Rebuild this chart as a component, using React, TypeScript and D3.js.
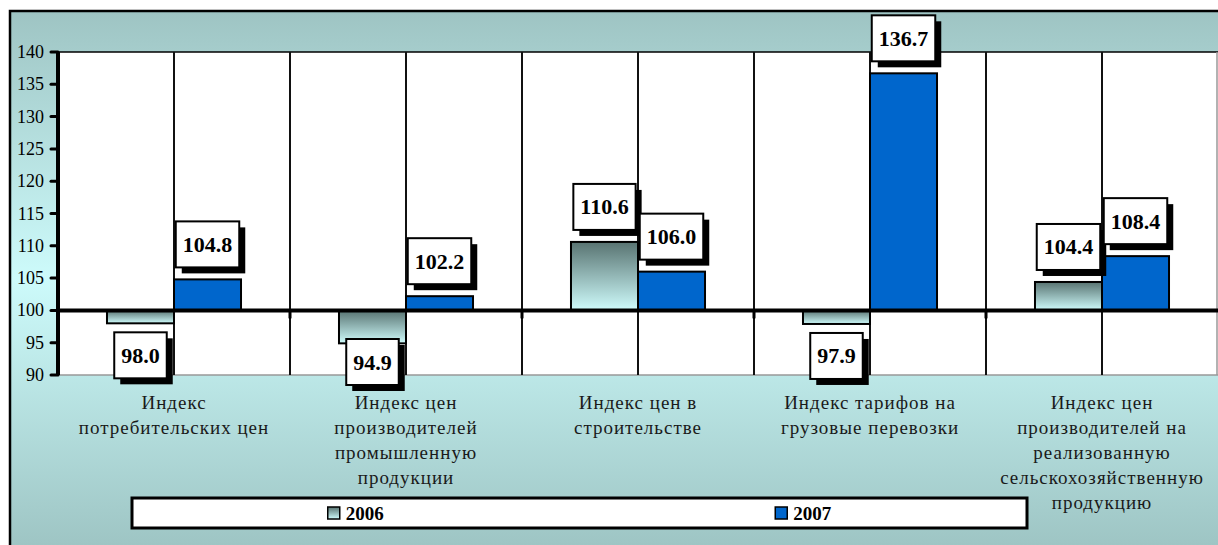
import React from "react";
import * as d3 from "d3";

const categories: string[][] = [
  ["Индекс", "потребительских цен"],
  ["Индекс цен", "производителей", "промышленную", "продукции"],
  ["Индекс цен в", "строительстве"],
  ["Индекс тарифов на", "грузовые перевозки"],
  ["Индекс цен", "производителей на", "реализованную", "сельскохозяйственную", "продукцию"],
];
const seriesNames = ["2006", "2007"];
const values2006 = [98.0, 94.9, 110.6, 97.9, 104.4];
const values2007 = [104.8, 102.2, 106.0, 136.7, 108.4];
const yTicks = [90, 95, 100, 105, 110, 115, 120, 125, 130, 135, 140];

const W = 1218;
const H = 545;
const plotL = 58;
const plotR = 1218;
const plotT = 52;
const plotB = 375;
const BASE = 100;

const valueFont = "bold 22px 'Liberation Serif'";

function measure(text: string, font: string): number {
  try {
    const c = document.createElement("canvas");
    const ctx = c.getContext("2d");
    if (ctx) {
      ctx.font = font;
      return ctx.measureText(text).width;
    }
  } catch (e) {}
  return text.length * 10;
}

export default function App() {
  const catIdx = categories.map((_, i) => String(i));
  const x = d3.scaleBand<string>().domain(catIdx).range([plotL, plotR]).paddingInner(0).paddingOuter(0);
  const xs = d3.scaleBand<string>().domain(seriesNames).range([0, x.bandwidth()]).paddingInner(0).paddingOuter(0.731);
  const y = d3.scaleLinear().domain([90, 140]).range([plotB, plotT]);

  const series = [
    { name: "2006", values: values2006, fill: "url(#g06)" },
    { name: "2007", values: values2007, fill: "#0066CC" },
  ];

  const bars: any[] = [];
  const labels: any[] = [];
  series.forEach((s) => {
    s.values.forEach((v, i) => {
      const bx = (x(String(i)) as number) + (xs(s.name) as number);
      const bw = xs.bandwidth();
      const y0 = y(BASE);
      const y1 = y(v);
      const top = Math.min(y0, y1);
      const h = Math.abs(y1 - y0);
      bars.push(
        <rect key={`b${s.name}${i}`} x={bx} y={top} width={bw} height={h} fill={s.fill} stroke="#000" strokeWidth={2} />
      );
      const txt = v.toFixed(1);
      const tw = measure(txt, valueFont);
      const boxW = tw + 14;
      const boxH = 46;
      const cx = bx + bw / 2;
      let by: number;
      if (v >= BASE) {
        by = y1 - 12 - boxH;
      } else {
        by = Math.min(y1 + 9, y(90) - 36);
      }
      labels.push(
        <g key={`l${s.name}${i}`}>
          <rect x={cx - boxW / 2 + 6} y={by + 6} width={boxW} height={boxH} fill="#000" />
          <rect x={cx - boxW / 2} y={by} width={boxW} height={boxH} fill="#fff" stroke="#000" strokeWidth={2} />
          <text
            x={cx}
            y={by + boxH / 2 + 7.5}
            textAnchor="middle"
            fontFamily="'Liberation Serif', serif"
            fontWeight="bold"
            fontSize={22}
            fill="#000"
          >
            {txt}
          </text>
        </g>
      );
    });
  });

  const gridXs: number[] = [];
  catIdx.forEach((c) => {
    const s = x(c) as number;
    if (s > plotL) gridXs.push(s);
    gridXs.push(s + x.bandwidth() / 2);
  });

  const boundaryXs = catIdx.slice(1).map((c) => x(c) as number);

  const legendX0 = 132;
  const legendX1 = 1027;
  const legendY0 = 498;
  const legendY1 = 528;
  const half = (legendX1 - legendX0) / 2;
  const legendFont = "bold 19px 'Liberation Serif'";

  return (
    <svg
      width={W}
      height={H}
      style={{ position: "absolute", left: 0, top: 0, display: "block" }}
      xmlns="http://www.w3.org/2000/svg"
    >
      <defs>
        <linearGradient id="bg" x1="0" y1="11" x2="0" y2="545" gradientUnits="userSpaceOnUse">
          <stop offset="0" stopColor="#9ec4c3" />
          <stop offset="0.5" stopColor="#cdfbfb" />
          <stop offset="1" stopColor="#9ec5c4" />
        </linearGradient>
        <linearGradient id="g06" x1="0" y1="0" x2="0" y2="1">
          <stop offset="0" stopColor="#587371" />
          <stop offset="1" stopColor="#cffcfc" />
        </linearGradient>
      </defs>
      <rect x={0} y={0} width={W} height={H} fill="#fff" />
      <rect x={10} y={11} width={W + 10} height={H + 10} fill="url(#bg)" stroke="#000" strokeWidth={2.5} />

      {/* plot area */}
      <rect x={plotL} y={plotT} width={plotR - plotL} height={plotB - plotT} fill="#fff" />
      <line x1={plotL} x2={plotR} y1={plotT} y2={plotT} stroke="#000" strokeWidth={1.5} />
      <line x1={plotL} x2={plotR} y1={plotB} y2={plotB} stroke="#999" strokeWidth={1.5} />
      <line x1={plotR - 1} x2={plotR - 1} y1={plotT} y2={plotB} stroke="#999" strokeWidth={1.5} />

      {gridXs.map((gx, i) => (
        <line key={`g${i}`} x1={gx} x2={gx} y1={plotT} y2={plotB} stroke="#111" strokeWidth={2} />
      ))}

      {bars}

      {/* baseline at 100 */}
      <line x1={plotL} x2={plotR} y1={y(BASE)} y2={y(BASE)} stroke="#000" strokeWidth={4} />
      {boundaryXs.map((bx, i) => (
        <line key={`t${i}`} x1={bx} x2={bx} y1={y(BASE)} y2={y(BASE) + 7} stroke="#000" strokeWidth={3} strokeLinecap="round" />
      ))}

      {/* y axis */}
      <line x1={plotL} x2={plotL} y1={plotT} y2={plotB} stroke="#000" strokeWidth={4} />
      {yTicks.map((t) => (
        <g key={`yt${t}`}>
          <line x1={plotL - 7} x2={plotL} y1={y(t)} y2={y(t)} stroke="#000" strokeWidth={3} strokeLinecap="round" />
          <text
            x={44}
            y={y(t) + 6}
            textAnchor="end"
            fontFamily="'Liberation Serif', serif"
            fontSize={18}
            fill="#000"
          >
            {t}
          </text>
        </g>
      ))}

      {labels}

      {/* category labels */}
      {categories.map((lines, i) => {
        const cx = (x(String(i)) as number) + x.bandwidth() / 2;
        return (
          <text
            key={`c${i}`}
            textAnchor="middle"
            fontFamily="'Liberation Serif', serif"
            fontSize={19}
            letterSpacing={1}
            fill="#1a1a1a"
          >
            {lines.map((ln, j) => (
              <tspan key={j} x={cx} y={409 + j * 25}>
                {ln}
              </tspan>
            ))}
          </text>
        );
      })}

      {/* legend */}
      <rect x={legendX0} y={legendY0} width={legendX1 - legendX0} height={legendY1 - legendY0} fill="#fff" stroke="#000" strokeWidth={3} />
      {series.map((s, i) => {
        const tw = measure(s.name, legendFont);
        const itemW = 13 + 5 + tw;
        const cx = legendX0 + half * i + half / 2;
        const sx = cx - itemW / 2;
        return (
          <g key={`lg${i}`}>
            <rect x={sx} y={507} width={12} height={12} fill={s.fill} stroke="#000" strokeWidth={1.5} />
            <text
              x={sx + 18}
              y={519.5}
              fontFamily="'Liberation Serif', serif"
              fontWeight="bold"
              fontSize={19}
              fill="#000"
            >
              {s.name}
            </text>
          </g>
        );
      })}
    </svg>
  );
}
